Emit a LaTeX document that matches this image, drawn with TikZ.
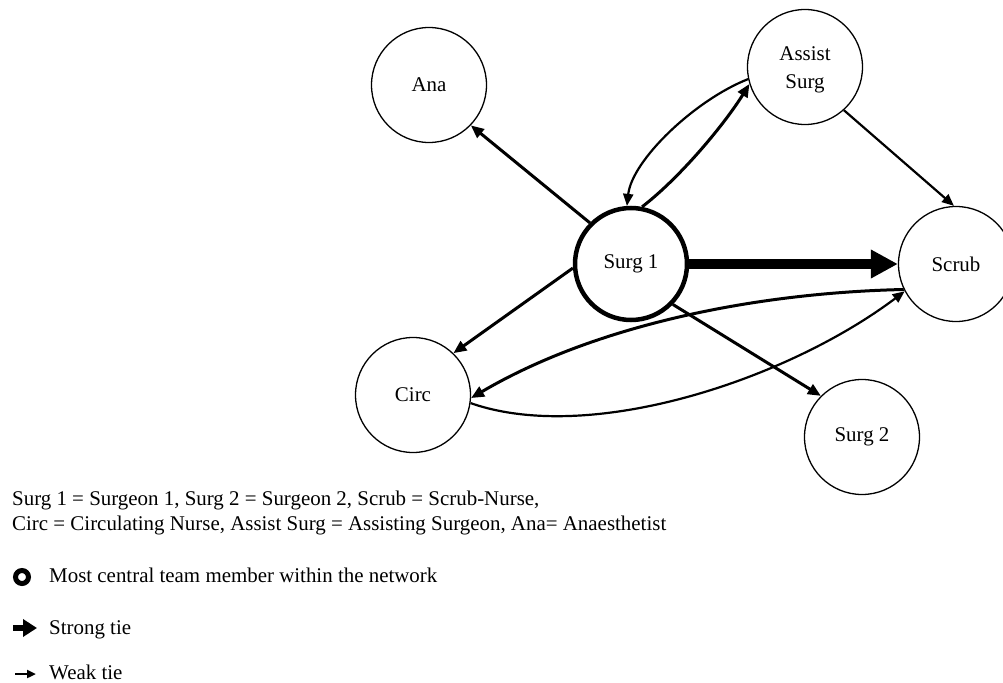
\documentclass[tikz,border=0pt]{standalone}
\usepackage{fontspec}
\setmainfont{Liberation Serif}
\usetikzlibrary{arrows.meta}
\begin{document}
\begin{tikzpicture}[x=1bp,y=-1bp,
  member/.style={circle,draw,line width=1.3bp,minimum size=115bp,inner sep=0pt,font=\fontsize{21}{27}\selectfont,align=center},
  central/.style={member,line width=4.5bp,minimum size=112bp},
  nodetext/.style={inner sep=0pt,font=\fontsize{21}{28}\selectfont,align=center},
  tie/.style={line width=3bp,-{Triangle[length=13bp,width=11bp]}},
  weaktie/.style={line width=2.2bp,-{Triangle[length=12bp,width=10bp]}},
  strongtie/.style={line width=9.5bp,-{Triangle[length=27bp,width=27bp]}},
  legend/.style={anchor=base west,inner sep=0pt,font=\fontsize{21}{24}\selectfont}]
\useasboundingbox (0,0) rectangle (1003,683);
% nodes
\node[member] (ana) at (429,85) {Ana};
\node[member] (assist) at (805,67) {};
\node[nodetext] (assisttxt) at (805,70) {Assist\\Surg};
\node[central] (s1) at (631,264) {Surg 1};
\node[member] (scrub) at (956,264) {Scrub};
\node[member] (circ) at (413,395) {Circ};
\node[member] (s2) at (862,437) {Surg 2};
% ties
\draw[tie] (s1.135) -- (ana.316);
\draw[weaktie] (assist.192) .. controls (695,100) and (632,160) .. (s1.94);
\draw[tie] (s1.79) .. controls (682,176) and (726,122) .. (assist.197);
\draw[weaktie] (assist.312) -- (scrub.92);
\draw[strongtie] (s1.0) -- (scrub.180);
\draw[tie] (s1.184) -- (circ.46);
\draw[tie] (s1.316) -- (s2.135);
\draw[tie] (scrub.206) .. controls (747,293) and (590,328) .. (circ.357);
\draw[weaktie] (circ.352) .. controls (590,445) and (787,380) .. (scrub.208);
% legend
\node[legend] (l1) at (12,505) {Surg 1 = Surgeon 1, Surg 2 = Surgeon 2, Scrub = Scrub-Nurse,};
\node[legend] (l2) at (12,530) {Circ = Circulating Nurse, Assist Surg = Assisting Surgeon, Ana= Anaesthetist};
\node[circle,draw,line width=5bp,minimum size=13bp,inner sep=0pt] (lc) at (22,577) {};
\node[legend] (lm) at (49,582) {Most central team member within the network};
\coordinate (sa) at (13,628);
\coordinate (sb) at (37,628);
\draw[line width=6.5bp,-{Triangle[length=14bp,width=17bp]}] (sa) -- (sb);
\node[legend] (ls) at (49,634) {Strong tie};
\coordinate (wa) at (15,674);
\coordinate (wb) at (36,674);
\draw[line width=2.7bp,-{Triangle[length=9bp,width=8bp]}] (wa) -- (wb);
\node[legend] (lw) at (49,679) {Weak tie};
\end{tikzpicture}
\end{document}
